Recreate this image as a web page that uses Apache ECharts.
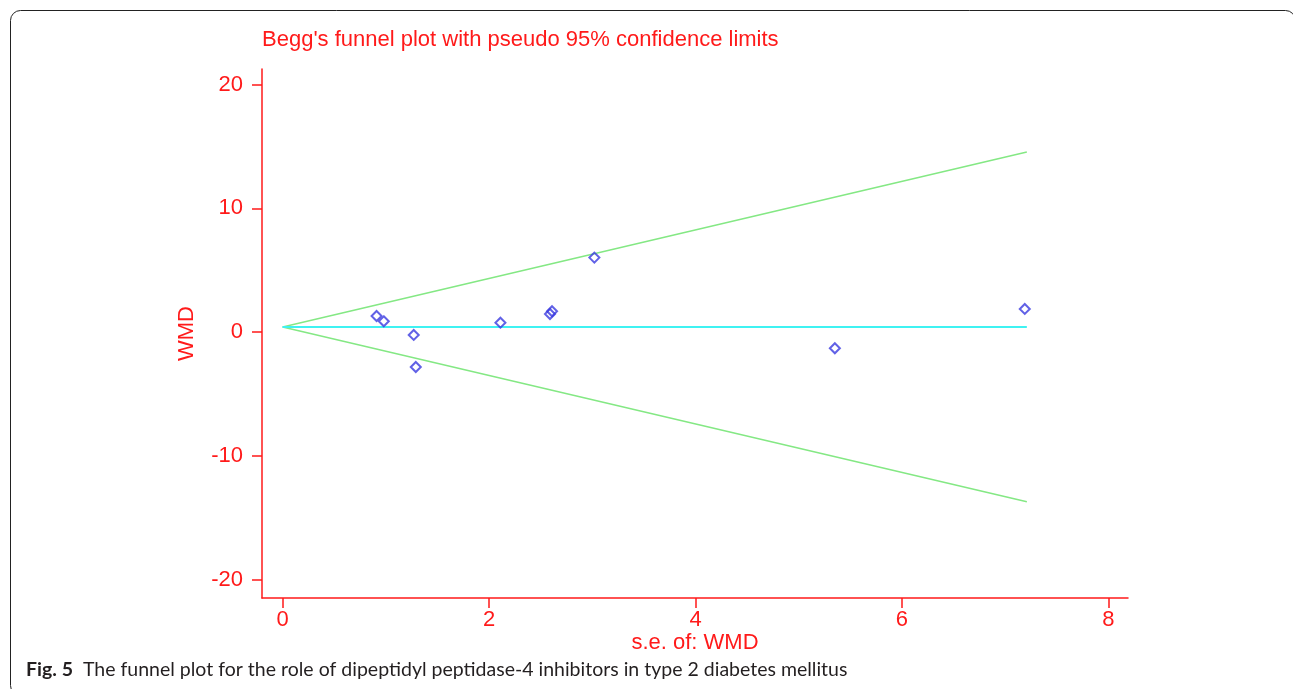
<!DOCTYPE html>
<html>
<head>
<meta charset="utf-8">
<title>Begg's funnel plot</title>
<script src="https://cdn.jsdelivr.net/npm/echarts@6/dist/echarts.min.js"></script>
<style>
    html, body { margin: 0; padding: 0; background: #fff; }
    #chart { width: 1293px; height: 689px; }
</style>
</head>
<body>
<div id="chart"></div>
<script>
// studies: standard error and WMD
var seValues  = [0.91, 0.98, 1.27, 1.29, 2.11, 2.59, 2.61, 3.02, 5.35, 7.19];
var wmdValues = [1.30, 0.87, -0.23, -2.82, 0.76, 1.46, 1.68, 6.02, -1.31, 1.87];

// pooled estimate and pseudo 95% limits (end points of the lines)
var limitSe     = [0, 7.21];
var pooledLine  = [0.41, 0.41];
var upperLimit  = [0.41, 14.55];
var lowerLimit  = [0.41, -13.72];

// tick labels
var xTicks = [0, 2, 4, 6, 8];
var yTicks = [-20, -10, 0, 10, 20];

var RED = '#ff1a1a';
var FONT = '"Liberation Sans", Arial, sans-serif';
var CAPTION_FONT = 'Lato, "Open Sans", sans-serif';

function pairs(xs, ys) {
    return xs.map(function (x, i) { return [x, ys[i]]; });
}

var chart = echarts.init(document.getElementById('chart'));

var option = {
    animation: false,
    backgroundColor: '#fff',
    title: [
        {
            text: "Begg's funnel plot with pseudo 95% confidence limits",
            left: 262,
            top: 29,
            padding: 0,
            textStyle: { color: RED, fontSize: 22, fontWeight: 'normal', fontFamily: FONT }
        },
        {
            text: '{b|Fig. 5}  The funnel plot for the role of dipeptidyl peptidase-4 inhibitors in type 2 diabetes mellitus',
            left: 26,
            top: 660,
            padding: 0,
            textStyle: {
                color: '#231f20', fontSize: 19.5, fontWeight: 'normal', fontFamily: CAPTION_FONT,
                rich: {
                    b: { fontWeight: 'bold', fontSize: 19.5, color: '#231f20', fontFamily: CAPTION_FONT }
                }
            }
        }
    ],
    graphic: [
        {
            type: 'rect',
            silent: true,
            shape: { x: 10.5, y: 10.5, width: 1285, height: 685, r: 10 },
            style: { fill: 'none', stroke: '#222', lineWidth: 1 }
        }
    ],
    grid: { left: 262, top: 69, width: 866, height: 529 },
    xAxis: {
        type: 'value',
        min: -0.2,
        max: 8.19,
        name: 's.e. of: WMD',
        nameLocation: 'middle',
        nameGap: 34,
        nameMoveOverlap: false,
        nameTextStyle: { color: RED, fontSize: 22, fontFamily: FONT },
        axisLine: { onZero: false, lineStyle: { color: RED, width: 1.5 } },
        axisTick: { show: true, length: 10, lineStyle: { color: RED, width: 1.5 }, customValues: xTicks },
        axisLabel: { color: RED, fontSize: 22, fontFamily: FONT, margin: 11, customValues: xTicks },
        splitLine: { show: false }
    },
    yAxis: {
        type: 'value',
        min: -21.49,
        max: 21.26,
        name: 'WMD',
        nameLocation: 'middle',
        nameRotate: 90,
        nameGap: 64,
        nameMoveOverlap: false,
        nameTextStyle: { color: RED, fontSize: 22, fontFamily: FONT },
        axisLine: { show: true, onZero: false, lineStyle: { color: RED, width: 1.5 } },
        axisTick: { show: true, length: 10, lineStyle: { color: RED, width: 1.5 }, customValues: yTicks },
        axisLabel: { color: RED, fontSize: 22, fontFamily: FONT, margin: 19, customValues: yTicks },
        splitLine: { show: false }
    },
    series: [
        {
            name: 'upper',
            type: 'line',
            data: pairs(limitSe, upperLimit),
            symbol: 'none',
            lineStyle: { color: '#84e884', width: 1.5 }
        },
        {
            name: 'lower',
            type: 'line',
            data: pairs(limitSe, lowerLimit),
            symbol: 'none',
            lineStyle: { color: '#84e884', width: 1.5 }
        },
        {
            name: 'pooled',
            type: 'line',
            data: pairs(limitSe, pooledLine),
            symbol: 'none',
            lineStyle: { color: '#3ff2f2', width: 2 }
        },
        {
            name: 'studies',
            type: 'scatter',
            data: pairs(seValues, wmdValues),
            symbol: 'diamond',
            symbolSize: 10,
            itemStyle: { color: 'rgba(255,255,255,0)', borderColor: '#3a3ae0', borderWidth: 2 },
            z: 5
        }
    ]
};

chart.setOption(option);
</script>
</body>
</html>
